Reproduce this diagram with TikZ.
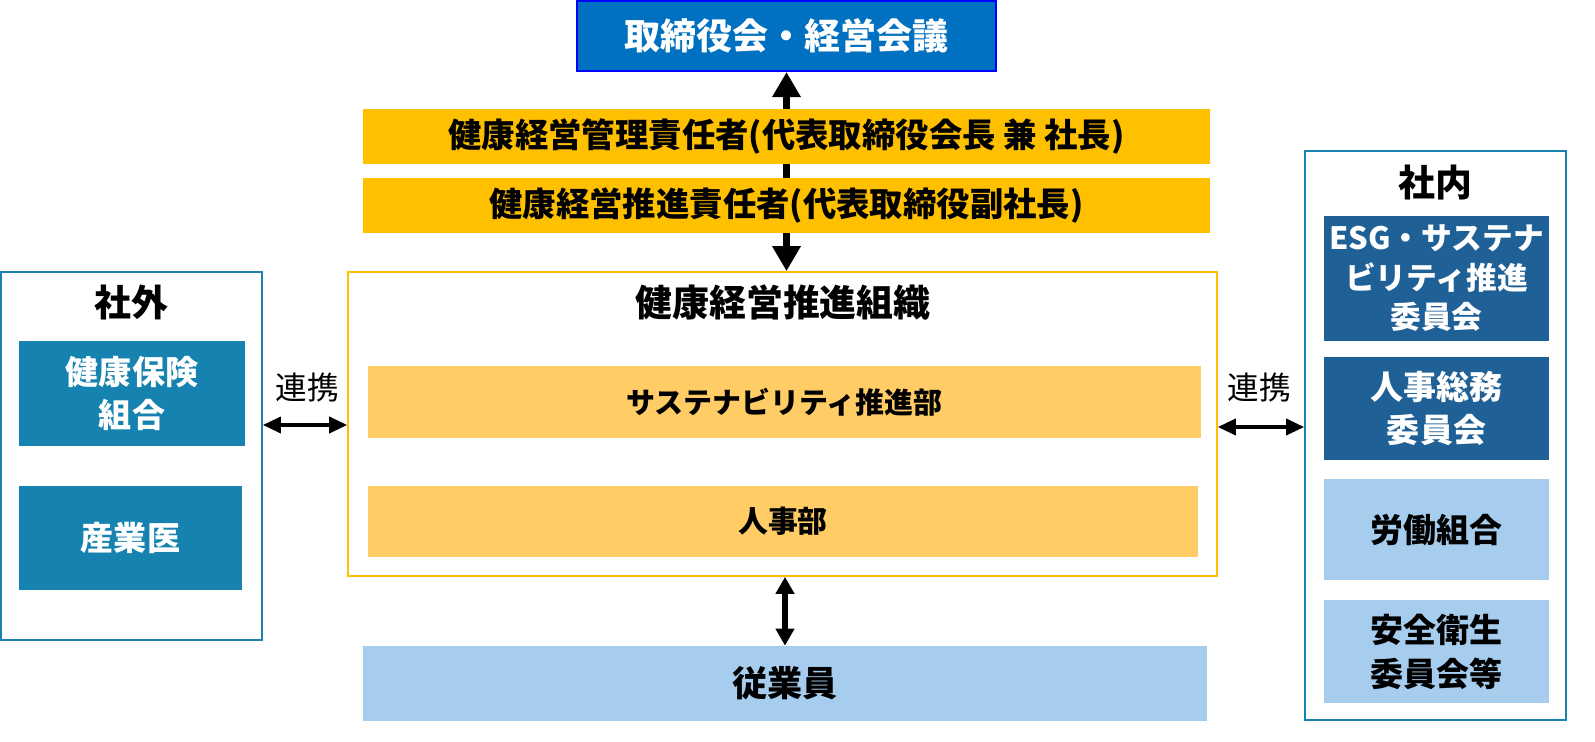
\documentclass[tikz,border=0pt]{standalone}
\usepackage{fontspec}
\setmainfont{Noto Sans CJK JP}
\usepackage{tikz}
\usetikzlibrary{arrows.meta,positioning,calc}
\definecolor{boardblue}{HTML}{0070C0}
\definecolor{gold}{HTML}{FFC000}
\definecolor{lightgold}{HTML}{FFCC66}
\definecolor{paleblue}{HTML}{A6CDED}
\definecolor{teal}{HTML}{1682B0}
\definecolor{navy}{HTML}{1F6096}
\begin{document}
\begin{tikzpicture}[x=0.02cm,y=-0.02cm,
      box/.style={rectangle, inner sep=0pt, align=center, font=\bfseries},
      bar/.style={box, fill=gold, minimum width=16.94cm, minimum height=1.1cm, font=\bfseries\fontsize{19}{22}\selectfont},
      unit/.style={box, fill=lightgold, minimum height=1.43cm, font=\bfseries\fontsize{17}{20}\selectfont},
      frame/.style={rectangle, draw=teal, line width=1pt, inner sep=0pt},
      side/.style={box, text=white, font=\bfseries\fontsize{18.8}{25}\selectfont},
      title/.style={font=\bfseries\fontsize{21}{24}\selectfont},
      link/.style={{Triangle[length=0.36cm,width=0.32cm]}-{Triangle[length=0.36cm,width=0.32cm]}, line width=2pt}]
    \useasboundingbox (0,0) rectangle (1595,742);
    % top
    \node[box, fill=boardblue, draw=blue, line width=1.2pt, text=white, minimum width=8.38cm, minimum height=1.4cm,
          font=\bfseries\fontsize{20.5}{24}\selectfont] (board) at (786.5,36) {取締役会・経営会議};
    \node[frame, draw=gold, minimum width=17.38cm, minimum height=6.08cm] (org) at (782.5,424) {};
    \draw[{Triangle[length=0.5cm,width=0.54cm]}-{Triangle[length=0.5cm,width=0.54cm]}, line width=4.5pt]
      (board.south) -- (board.south |- org.north);
    \node[bar] (mgr) at (786.5,136.5) {健康経営管理責任者(代表取締役会長 兼 社長)};
    \node[bar] (promo) at (786.5,205.5) {健康経営推進責任者(代表取締役副社長)};
    % center
    \node[title] (orgtitle) at (783,303) {健康経営推進組織};
    \node[unit, minimum width=16.66cm, font=\bfseries\fontsize{16.5}{20}\selectfont] (sus) at (784.5,402) {サステナビリティ推進部};
    \node[unit, minimum width=16.6cm] (hr) at (783,521.5) {人事部};
    \node[box, fill=paleblue, minimum width=16.88cm, minimum height=1.5cm,
          font=\bfseries\fontsize{20}{24}\selectfont] (staff) at (785,683.5) {従業員};
    \draw[{Triangle[length=0.34cm,width=0.36cm]}-{Triangle[length=0.34cm,width=0.36cm]}, line width=3.2pt]
      (staff.north |- org.south) -- (staff.north);
    % outside
    \node[frame, minimum width=5.22cm, minimum height=7.36cm] (ext) at (131.5,456) {};
    \node[title] (exttitle) at (131,302) {社外};
    \node[side, fill=teal, minimum width=4.52cm, minimum height=2.1cm] (kenpo) at (132,393.5) {健康保険\\組合};
    \node[side, fill=teal, minimum width=4.46cm, minimum height=2.08cm] (doctor) at (130.5,538) {産業医};
    \coordinate (extlink) at (305,425);
    \node[font=\fontsize{18}{20}\selectfont] (extlabel) at (307,388) {連携};
    \draw[link] (extlink -| ext.east) -- (extlink -| org.west);
    % inside
    \node[frame, minimum width=5.22cm, minimum height=11.38cm] (int) at (1435.5,435.5) {};
    \node[title] (inttitle) at (1435,183) {社内};
    \node[side, fill=navy, minimum width=4.5cm, minimum height=2.5cm, font=\bfseries\fontsize{17.5}{22.5}\selectfont]
      (esg) at (1436.5,278.5) {ESG・サステナ\\ビリティ推進\\委員会};
    \node[side, fill=navy, minimum width=4.5cm, minimum height=2.06cm] (soumu) at (1436.5,408.5) {人事総務\\委員会};
    \node[side, fill=paleblue, text=black, minimum width=4.5cm, minimum height=2.02cm] (union) at (1436.5,529.5) {労働組合};
    \node[side, fill=paleblue, text=black, minimum width=4.5cm, minimum height=2.06cm] (safety) at (1436.5,651.5) {安全衛生\\委員会等};
    \coordinate (intlink) at (1260,427);
    \node[font=\fontsize{18}{20}\selectfont] (intlabel) at (1259,388) {連携};
    \draw[link] (intlink -| org.east) -- (intlink -| int.west);
\end{tikzpicture}
\end{document}
